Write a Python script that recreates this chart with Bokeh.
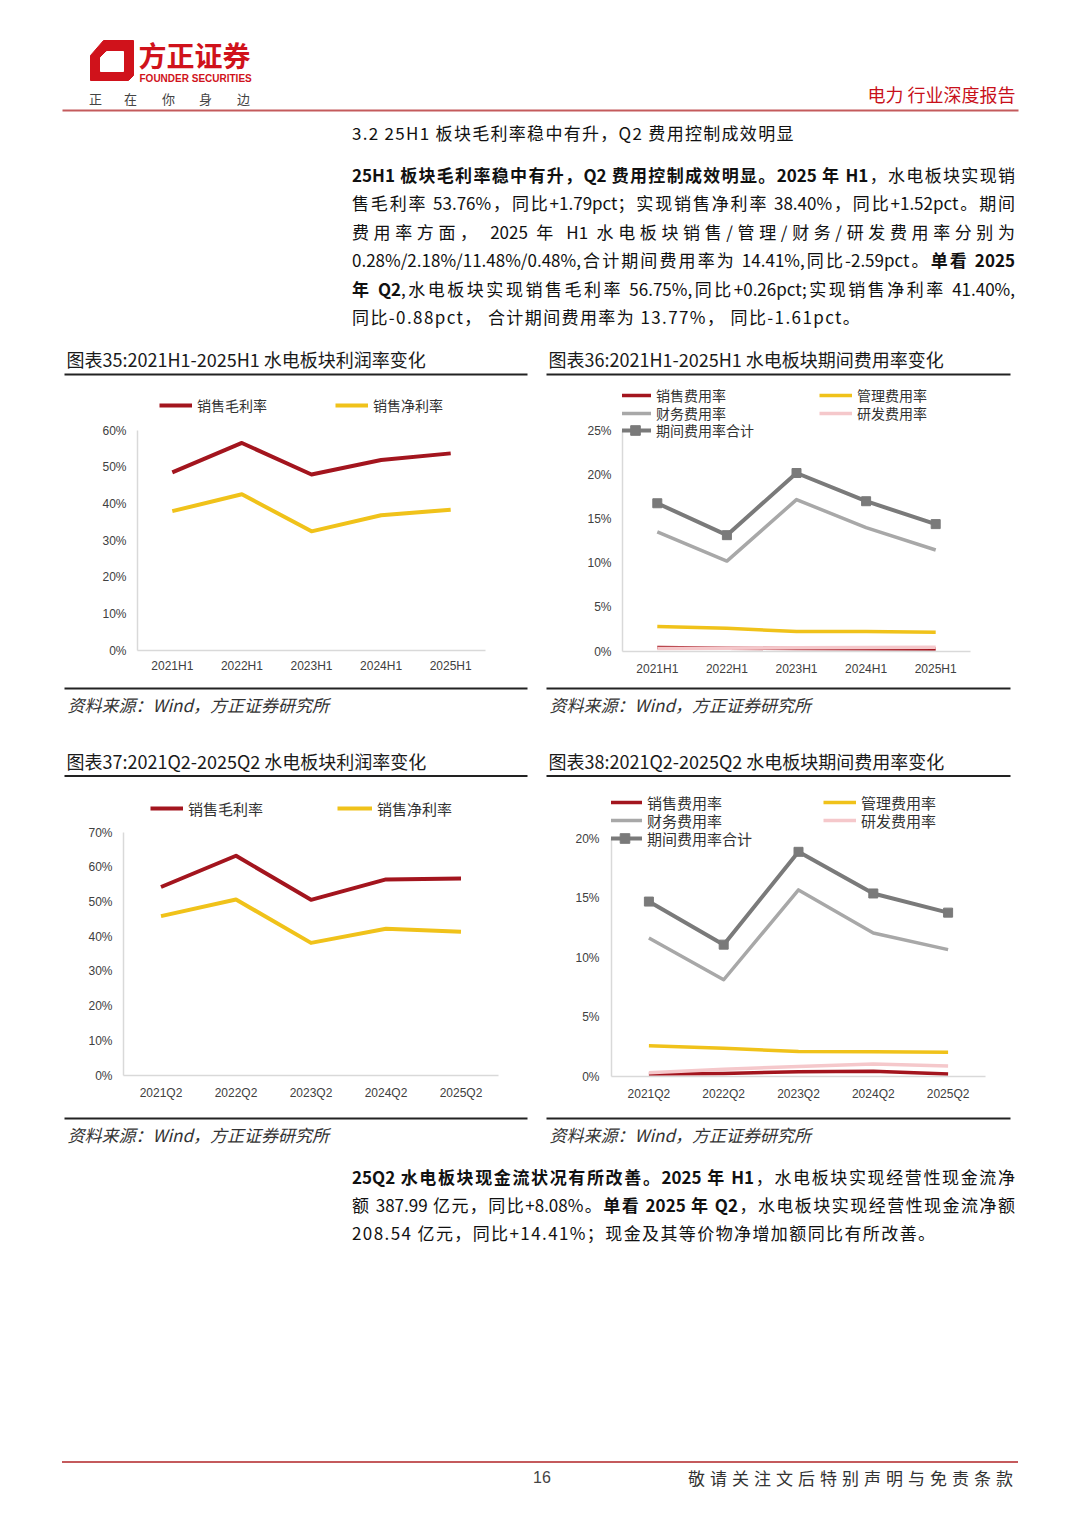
from bokeh.plotting import figure
from bokeh.models import (Range1d, FactorRange, FixedTicker, PrintfTickFormatter,
                          Legend, LegendItem, Div)
from bokeh.layouts import column, row
from bokeh.core.properties import value
from bokeh.embed import file_html
from bokeh.resources import INLINE

# ---------------- data ----------------
h1_periods = ["2021H1", "2022H1", "2023H1", "2024H1", "2025H1"]
h1_gross_margin = [48.6, 56.6, 48.0, 51.97, 53.76]
h1_net_margin = [38.0, 42.6, 32.5, 36.88, 38.40]
h1_selling_exp = [0.45, 0.38, 0.33, 0.30, 0.28]
h1_admin_exp = [2.82, 2.63, 2.26, 2.25, 2.18]
h1_finance_exp = [13.53, 10.23, 17.18, 14.02, 11.48]
h1_rnd_exp = [0.35, 0.38, 0.42, 0.45, 0.48]
h1_total_exp = [16.77, 13.16, 20.19, 17.00, 14.41]

q2_periods = ["2021Q2", "2022Q2", "2023Q2", "2024Q2", "2025Q2"]
q2_gross_margin = [54.3, 63.3, 50.6, 56.49, 56.75]
q2_net_margin = [45.9, 50.7, 38.2, 42.28, 41.40]
q2_selling_exp = [0.20, 0.25, 0.40, 0.44, 0.22]
q2_admin_exp = [2.58, 2.38, 2.10, 2.08, 2.04]
q2_finance_exp = [11.64, 8.13, 15.68, 12.06, 10.66]
q2_rnd_exp = [0.32, 0.60, 0.85, 1.05, 0.88]
q2_total_exp = [14.70, 11.08, 18.88, 15.38, 13.77]

ticks_margin_h1 = [0, 10, 20, 30, 40, 50, 60]
ticks_exp_h1 = [0, 5, 10, 15, 20, 25]
ticks_margin_q2 = [0, 10, 20, 30, 40, 50, 60, 70]
ticks_exp_q2 = [0, 5, 10, 15, 20]

# ---------------- style ----------------
CJK = "Noto Sans CJK SC"
LAT = "Liberation Sans"
RED = "#A3151E"
YEL = "#F0C21A"
LGRAY = "#A8A8A8"
DGRAY = "#7A7A7A"
PINK = "#F5C8CB"
BRAND = "#D0121B"
INK = "#1a1a1a"


def deco(x0, x1, y0, y1):
    p = figure(width=int(x1 - x0), height=int(y1 - y0),
               x_range=Range1d(x0, x1), y_range=Range1d(y1, y0),
               x_axis_type=None, y_axis_type=None, toolbar_location=None,
               output_backend="svg", title=None, min_border=0)
    p.frame_align = False
    p.outline_line_color = None
    p.background_fill_color = "white"
    p.border_fill_color = "white"
    return p


def txt(p, x, y, s, size, color=INK, font=CJK, align="left", style="normal"):
    p.text(x=[x], y=[y], text=[s], text_font=value(font),
           text_font_size=value(size), text_color=color, text_align=align,
           text_baseline="middle", text_font_style=style)


def hline(p, x0, x1, y, color="#222222", w=2):
    p.line(x=[x0, x1], y=[y, y], line_color=color, line_width=w)


def chart(cats, x0, y0, w, h, fl, fr, ft, fb, ticks, tick_px, xstand, ystand):
    y_top = (fb - ft) * ticks[-1] / (fb - tick_px)
    p = figure(width=w, height=h, x_range=FactorRange(*cats),
               y_range=Range1d(0, y_top), toolbar_location=None,
               output_backend="svg", title=None,
               min_border_left=fl - x0, min_border_right=x0 + w - fr,
               min_border_top=ft - y0, min_border_bottom=y0 + h - fb)
    p.frame_align = False
    p.outline_line_color = None
    p.xgrid.visible = False
    p.ygrid.visible = False
    p.yaxis.ticker = FixedTicker(ticks=ticks)
    p.yaxis.bounds = (0, ticks[-1])
    p.yaxis.formatter = PrintfTickFormatter(format="%d%%")
    for ax in (p.xaxis[0], p.yaxis[0]):
        ax.axis_line_color = "#D9D9D9"
        ax.axis_line_width = 1.5
        ax.major_tick_line_color = None
        ax.minor_tick_line_color = None
        ax.major_tick_out = 0
        ax.major_tick_in = 0
        ax.major_label_text_font = LAT
        ax.major_label_text_font_size = "12px"
        ax.major_label_text_color = "#404040"
    p.xaxis.major_label_standoff = xstand
    p.yaxis.major_label_standoff = ystand
    return p


def leg(p, label, rends, glyph_left, cy, fl, fb, gw, fsize):
    ih = 24
    bottom = cy + ih / 2
    lg = Legend(items=[LegendItem(label=label, renderers=rends)],
                location=(glyph_left - fl, fb - bottom), orientation="vertical",
                glyph_width=gw, glyph_height=ih, label_height=ih, label_width=10,
                spacing=0, padding=0, margin=0, border_line_color=None,
                background_fill_alpha=0, label_standoff=5,
                label_text_font=CJK, label_text_font_size=fsize,
                label_text_color="#333333")
    p.add_layout(lg)


# ---------------- header ----------------
hdr = deco(8, 1072, 8, 119)
hdr.patch(x=[103, 133, 133, 128, 90, 90], y=[40, 40, 75, 80, 80, 55], color=BRAND)
hdr.patch(x=[106, 123, 123, 100, 100], y=[51, 51, 71, 71, 57], color="white")
txt(hdr, 138, 54, "方正证券", "28px", BRAND, style="bold")
hdr.text(x=[139], y=[78], text=["FOUNDER SECURITIES"], text_font=value(LAT),
         text_font_size=value("10px"), text_font_style="bold", text_color=BRAND,
         text_baseline="middle")
for cx, ch in zip([95, 130, 168, 205, 243], ["正", "在", "你", "身", "边"]):
    txt(hdr, cx, 98, ch, "13px", "#444444", align="center")
txt(hdr, 1015, 93, "电力 行业深度报告", "18px", "#C8101A", align="right")
hline(hdr, 62, 1018, 110, "#C45A5C", 2)

# ---------------- paragraphs ----------------
para1 = [
    ("<b>25H1 板块毛利率稳中有升，Q2 费用控制成效明显。2025 年 H1</b>，水电板块实现销", True),
    ("售毛利率 53.76%，同比+1.79pct；实现销售净利率 38.40%，同比+1.52pct。期间", True),
    ("费用率方面， 2025 年 H1 水电板块销售/管理/财务/研发费用率分别为", True),
    ("0.28%/2.18%/11.48%/0.48%,合计期间费用率为 14.41%,同比-2.59pct。<b>单看 2025</b>", True),
    ("<b>年 Q2</b>,水电板块实现销售毛利率 56.75%,同比+0.26pct;实现销售净利率 41.40%,", True),
    ("同比-0.88pct， 合计期间费用率为 13.77%， 同比-1.61pct。", False),
]
para2 = [
    ("<b>25Q2 水电板块现金流状况有所改善。2025 年 H1</b>，水电板块实现经营性现金流净", True),
    ("额 387.99 亿元，同比+8.08%。<b>单看 2025 年 Q2</b>，水电板块实现经营性现金流净额", True),
    ("208.54 亿元，同比+14.41%；现金及其等价物净增加额同比有所改善。", False),
]


def para_html(lines, lh):
    out = []
    for s, just in lines:
        if just:
            st = "text-align:justify;text-align-last:justify;"
        else:
            st = "text-align:left;letter-spacing:1.4px;"
        out.append('<div style="height:%spx;line-height:%spx;%s">%s</div>' % (lh, lh, st, s))
    return "".join(out)


box = ("margin-left:344px;width:663px;font-family:'Noto Sans CJK SC';"
       "font-size:17px;color:#111;")
html1 = ('<div style="%s">' % box
         + '<div style="height:28px;line-height:28px;letter-spacing:1.3px;white-space:nowrap;">'
           '3.2 25H1 板块毛利率稳中有升，Q2 费用控制成效明显</div>'
         + '<div style="height:14px"></div>'
         + para_html(para1, 28.4) + '</div>')
div1 = Div(text=html1, width=1064, height=226, margin=0)

html2 = ('<div style="%s padding-top:3px;">' % box + para_html(para2, 28) + '</div>')
div2 = Div(text=html2, width=1064, height=90, margin=0)


# ---------------- chart blocks ----------------
def head(x0, x1, y0, y1, title, ty, ry, tx, rx0, rx1):
    p = deco(x0, x1, y0, y1)
    txt(p, tx, ty, title, "18px", INK)
    hline(p, rx0, rx1, ry, "#222222", 2)
    return p


def foot(x0, x1, y0, y1, ry, sy, tx, rx0, rx1):
    p = deco(x0, x1, y0, y1)
    hline(p, rx0, rx1, ry, "#222222", 2)
    txt(p, tx, sy, "资料来源：Wind，方正证券研究所", "17px", "#333333", style="italic")
    return p


# Chart 35
h35 = head(8, 540, 345, 382, "图表35:2021H1-2025H1 水电板块利润率变化", 358, 374, 66, 64, 527)
c35 = chart(h1_periods, 8, 382, 532, 300, 137, 485, 382, 650, ticks_margin_h1, 430, 8, 11)
r1 = c35.line(h1_periods, h1_gross_margin, line_color=RED, line_width=4, line_join="round")
r2 = c35.line(h1_periods, h1_net_margin, line_color=YEL, line_width=4, line_join="round")
leg(c35, "销售毛利率", [r1], 159, 405, 137, 650, 33, "14px")
leg(c35, "销售净利率", [r2], 335, 405, 137, 650, 33, "14px")
f35 = foot(8, 540, 682, 745, 688, 704, 67, 64, 527)

# Chart 36
h36 = head(540, 1072, 345, 382, "图表36:2021H1-2025H1 水电板块期间费用率变化", 358, 374, 548, 546, 1010)
c36 = chart(h1_periods, 540, 382, 532, 300, 622, 970, 382, 651, ticks_exp_h1, 430, 10, 11)
s1 = c36.line(h1_periods, h1_selling_exp, line_color=RED, line_width=3.5, line_join="round")
s2 = c36.line(h1_periods, h1_admin_exp, line_color=YEL, line_width=3.5, line_join="round")
s3 = c36.line(h1_periods, h1_finance_exp, line_color=LGRAY, line_width=3.5, line_join="round")
s4 = c36.line(h1_periods, h1_rnd_exp, line_color=PINK, line_width=3.5, line_join="round")
s5 = c36.line(h1_periods, h1_total_exp, line_color=DGRAY, line_width=4, line_join="round")
s5m = c36.scatter(h1_periods, h1_total_exp, marker="square", size=9, color=DGRAY)
leg(c36, "销售费用率", [s1], 619, 395, 622, 651, 32, "14px")
leg(c36, "财务费用率", [s3], 619, 412.5, 622, 651, 32, "14px")
leg(c36, "期间费用率合计", [s5, s5m], 619, 430, 622, 651, 32, "14px")
leg(c36, "管理费用率", [s2], 819, 395, 622, 651, 33, "14px")
leg(c36, "研发费用率", [s4], 819, 412.5, 622, 651, 33, "14px")
f36 = foot(540, 1072, 682, 745, 688, 704, 549, 546, 1010)

# Chart 37
h37 = head(8, 540, 745, 788, "图表37:2021Q2-2025Q2 水电板块利润率变化", 760, 775.5, 66, 64, 527)
c37 = chart(q2_periods, 8, 788, 532, 315, 123, 498, 788, 1075, ticks_margin_q2, 832, 10, 11)
g1 = c37.line(q2_periods, q2_gross_margin, line_color=RED, line_width=4, line_join="round")
g2 = c37.line(q2_periods, q2_net_margin, line_color=YEL, line_width=4, line_join="round")
leg(c37, "销售毛利率", [g1], 150, 808, 123, 1075, 33, "15px")
leg(c37, "销售净利率", [g2], 337, 808, 123, 1075, 35, "15px")
f37 = foot(8, 540, 1103, 1160, 1118, 1134, 67, 64, 527)

# Chart 38
h38 = head(540, 1072, 745, 788, "图表38:2021Q2-2025Q2 水电板块期间费用率变化", 760, 775.5, 548, 546, 1010)
c38 = chart(q2_periods, 540, 788, 532, 315, 611, 985, 788, 1076, ticks_exp_q2, 838, 10, 12)
t1 = c38.line(q2_periods, q2_selling_exp, line_color=RED, line_width=3.5, line_join="round")
t2 = c38.line(q2_periods, q2_admin_exp, line_color=YEL, line_width=3.5, line_join="round")
t3 = c38.line(q2_periods, q2_finance_exp, line_color=LGRAY, line_width=3.5, line_join="round")
t4 = c38.line(q2_periods, q2_rnd_exp, line_color=PINK, line_width=3.5, line_join="round")
t5 = c38.line(q2_periods, q2_total_exp, line_color=DGRAY, line_width=4, line_join="round")
t5m = c38.scatter(q2_periods, q2_total_exp, marker="square", size=9, color=DGRAY)
leg(c38, "销售费用率", [t1], 607, 802, 611, 1076, 35, "15px")
leg(c38, "财务费用率", [t3], 607, 820, 611, 1076, 35, "15px")
leg(c38, "期间费用率合计", [t5, t5m], 607, 838, 611, 1076, 35, "15px")
leg(c38, "管理费用率", [t2], 823, 802, 611, 1076, 33, "15px")
leg(c38, "研发费用率", [t4], 823, 820, 611, 1076, 33, "15px")
f38 = foot(540, 1072, 1103, 1160, 1118, 1134, 549, 546, 1010)

# ---------------- footer ----------------
foot_html = (
    '<div style="position:relative;width:1064px;height:269px;">'
    '<div style="position:absolute;left:54px;top:211px;width:956px;height:0;'
    'border-top:2px solid #C45A5C;"></div>'
    '<div style="position:absolute;left:514px;top:218px;width:40px;line-height:20px;'
    "text-align:center;font-family:'Liberation Sans';font-size:16px;color:#444;\">16</div>"
    '<div style="position:absolute;right:54px;top:218px;line-height:20px;white-space:nowrap;'
    "font-family:'Noto Sans CJK SC';font-size:17px;letter-spacing:5px;color:#333;\">"
    '敬请关注文后特别声明与免责条款</div>'
    '</div>')
footer = Div(text=foot_html, width=1064, height=269, margin=0)

block35 = column(h35, c35, f35, spacing=0)
block36 = column(h36, c36, f36, spacing=0)
block37 = column(h37, c37, f37, spacing=0)
block38 = column(h38, c38, f38, spacing=0)

page = column(hdr, div1, row(block35, block36, spacing=0),
              row(block37, block38, spacing=0), div2, footer, spacing=0,
              margin=(8, 0, 0, 8))

open("out.html", "w").write(file_html(page, INLINE))
